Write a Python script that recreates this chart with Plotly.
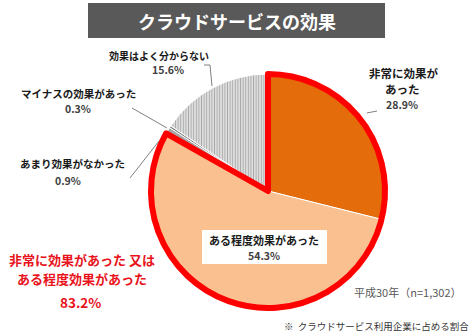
import plotly.graph_objects as go
import math

# ---- data ----
categories = ['非常に効果があった', 'ある程度効果があった', 'あまり効果がなかった',
              'マイナスの効果があった', '効果はよく分からない']
values = [28.9, 54.3, 0.9, 0.3, 15.6]
combined_label = ['非常に効果があった 又は', 'ある程度効果があった']
combined_value = 83.2
title_text = 'クラウドサービスの効果'
survey_note = '平成30年（n=1,302）'
footnote = '※  クラウドサービス利用企業に占める割合'

# ---- geometry ----
W, H = 470, 335
CX, CY, R = 268, 191, 117


def P(x, y):
    return x / W, 1 - y / H


slice_colors = ['#E46C0A', '#FAC090', '#A6A6A6', '#7F7F7F', '#FFFFFF']
patterns = ['', '', '', '', '|']

dom_x = [(CX - R) / W, (CX + R) / W]
dom_y = [1 - (CY + R) / H, 1 - (CY - R) / H]

fig = go.Figure()
fig.add_trace(go.Pie(
    labels=categories, values=values, sort=False, direction='clockwise', rotation=0,
    textinfo='none', hoverinfo='label+percent', showlegend=False,
    domain=dict(x=dom_x, y=dom_y),
    marker=dict(colors=slice_colors, line=dict(color='white', width=1),
                pattern=dict(shape=patterns, fgcolor='#555555', bgcolor='white',
                             size=2.6, solidity=0.6, fillmode='overlay')),
))
# red outline around the combined "effective" share
rest = sum(values) - combined_value
fig.add_trace(go.Pie(
    labels=['combined', 'rest'], values=[combined_value, rest], sort=False,
    direction='clockwise', rotation=0, textinfo='none', hoverinfo='skip',
    showlegend=False, domain=dict(x=dom_x, y=dom_y),
    marker=dict(colors=['rgba(0,0,0,0)', 'rgba(0,0,0,0)'],
                line=dict(color=['#FF0000', 'rgba(0,0,0,0)'], width=[6, 0])),
))

shapes = []
# title banner
x0, y0 = P(88, 3)
x1, y1 = P(385, 38)
shapes.append(dict(type='rect', xref='paper', yref='paper', x0=x0, y0=y1, x1=x1, y1=y0,
                   fillcolor='#595959', line=dict(width=0), layer='below'))
# label box for the large slice
bx0, by0 = P(202, 230)
bx1, by1 = P(327, 264)
shapes.append(dict(type='rect', xref='paper', yref='paper', x0=bx0, y0=by1, x1=bx1, y1=by0,
                   fillcolor='white', line=dict(width=0), layer='above'))


def leader(pts):
    path = 'M ' + ' L '.join('%f,%f' % P(x, y) for x, y in pts)
    shapes.append(dict(type='path', xref='paper', yref='paper', path=path,
                       line=dict(color='#7F7F7F', width=1)))


leader([(204, 65), (210, 65), (212, 86)])
leader([(132, 108), (167, 128)])
leader([(130, 178), (159, 141)])
leader([(367, 113), (377, 111)])

annos = []


def txt(x, y, s, size=11, color='#1a1a1a', bold=True, xanchor='center'):
    ax, ay = P(x, y)
    annos.append(dict(x=ax, y=ay, xref='paper', yref='paper', showarrow=False,
                      text=('<b>%s</b>' % s) if bold else s, xanchor=xanchor, yanchor='middle',
                      font=dict(size=size, color=color)))


txt(237, 21, title_text, size=18, color='white')

txt(159, 55, categories[4], size=10)
txt(168, 70, '%.1f%%' % values[4], size=10.5, color='#404040')
txt(78, 93, categories[3], size=10.5)
txt(78, 109, '%.1f%%' % values[3], size=10.5, color='#404040')
txt(72, 164, categories[2], size=10.5)
txt(68, 180, '%.1f%%' % values[2], size=10.5, color='#404040')
txt(403, 73, categories[0][:6], size=11.5)
txt(402, 89, categories[0][6:], size=11.5)
txt(402, 104, '%.1f%%' % values[0], size=10.5, color='#404040')
txt(264, 240, categories[1], size=11)
txt(264, 255, '%.1f%%' % values[1], size=10.5, color='#404040')

red = '#E8131B'
txt(82, 259, combined_label[0], size=13, color=red)
txt(82, 278, combined_label[1], size=13, color=red)
txt(80, 302, '%.1f%%' % combined_value, size=13.5, color=red)

txt(408, 292, survey_note, size=11, color='#595959', bold=False)
txt(376, 326, footnote, size=9.5, color='#333333', bold=False)

fig.update_layout(
    width=W, height=H, margin=dict(l=0, r=0, t=0, b=0),
    paper_bgcolor='white', plot_bgcolor='white',
    font=dict(family='Noto Sans CJK JP, Noto Sans, sans-serif'),
    shapes=shapes, annotations=annos,
)
fig.write_html('out.html')
